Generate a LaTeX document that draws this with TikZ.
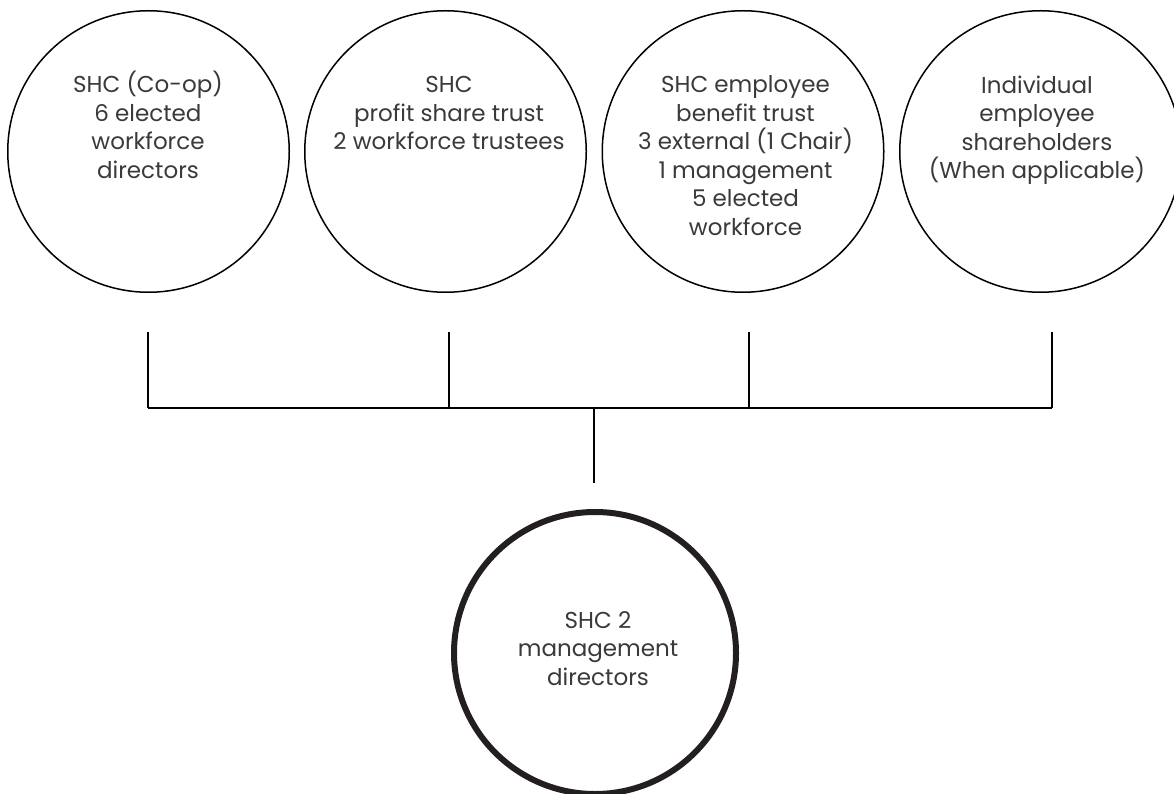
\documentclass[tikz,border=0pt]{standalone}
\usepackage{fontspec}
\setmainfont{Poppins}
\definecolor{textgray}{HTML}{3A3A3A}
\definecolor{linegray}{HTML}{231F20}
\begin{document}
\begin{tikzpicture}[x=1pt,y=-1pt,
  topcircle/.style={circle, draw=black, line width=1.5pt, minimum size=281.5pt, inner sep=0pt},
  botcircle/.style={circle, draw=linegray, line width=6pt, minimum size=282pt, inner sep=0pt},
  lbl/.style={font=\fontsize{23}{28.5}\selectfont, align=center, text=textgray, inner sep=0pt, anchor=base},
  conn/.style={draw=black, line width=1.5pt}]
\useasboundingbox[fill=white] (0,0) rectangle (1174,794);
\node[topcircle] (c1) at (148.5,151.5) {};
\node[topcircle] (c2) at (445.5,151.5) {};
\node[topcircle] (c3) at (743,151.5) {};
\node[topcircle] (c4) at (1040.5,151.5) {};
\node[botcircle] (c5) at (595,653) {};
% base anchor = baseline of the last line
\node[lbl] (t1) at (148,178.5) {SHC (Co-op)\\6 elected\\workforce\\directors};
\node[lbl] (t2) at (449,150) {SHC\\profit share trust\\2 workforce trustees};
\node[lbl] (t3) at (745.5,235.5) {SHC employee\\benefit trust\\3 external (1 Chair)\\1 management\\5 elected\\workforce};
\node[lbl] (t4) at (1037,179) {Individual\\employee\\shareholders\\(When applicable)};
\node[lbl] (t5) at (598,685) {SHC 2\\management\\directors};
\coordinate (a1) at (148,332);
\coordinate (a2) at (449,332);
\coordinate (a3) at (749,332);
\coordinate (a4) at (1052,332);
\coordinate (b1) at (148,408);
\coordinate (b2) at (449,408);
\coordinate (b3) at (749,408);
\coordinate (b4) at (1052,408);
\coordinate (m1) at (594,408);
\coordinate (m2) at (594,483);
\draw[conn] (a1) -- (b1);
\draw[conn] (a2) -- (b2);
\draw[conn] (a3) -- (b3);
\draw[conn] (a4) -- (b4);
\draw[conn] (b1) -- (b4);
\draw[conn] (m1) -- (m2);
\end{tikzpicture}
\end{document}
